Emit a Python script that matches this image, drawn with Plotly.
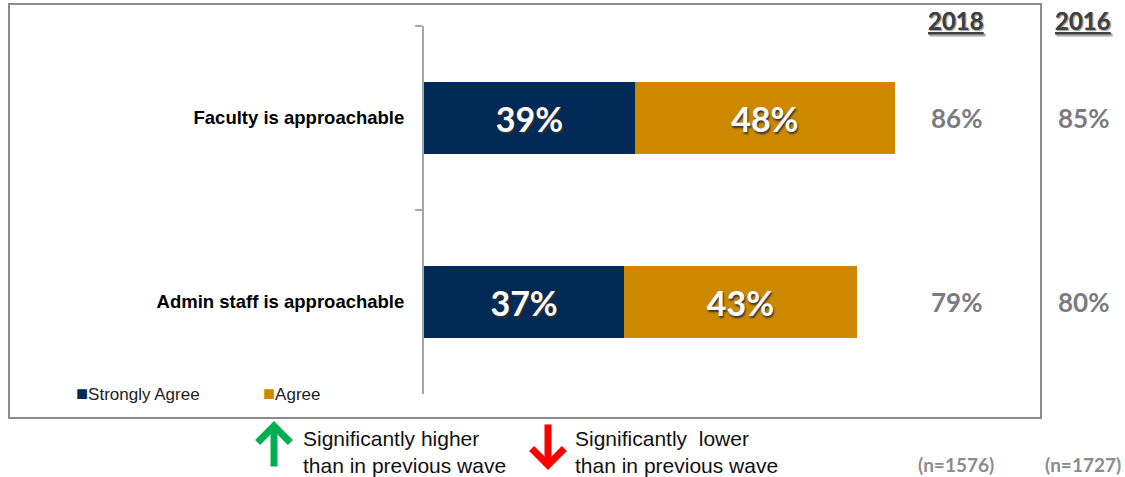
import plotly.graph_objects as go

# data
statements = ["Faculty is approachable", "Admin staff is approachable"]
strongly_agree = [39, 37]
agree = [48, 43]
total_2018 = [86, 79]
total_2016 = [85, 80]
waves = ["2018", "2016"]
bases = ["(n=1576)", "(n=1727)"]
series_names = ["Strongly Agree", "Agree"]
series_colors = ["#022a56", "#cc8900"]

W, H = 1125, 477
L, R, T, B = 424, 1041, 26, 394  # plot area in pixels


def px(x):
    return (x - L) / (R - L)


def py(y):
    return (B - y) / (B - T)


bar_font = dict(family="Lato", size=34, color="white", weight="bold",
                shadow="1px 2px 2px #333")

fig = go.Figure()
for name, vals, col in zip(series_names, [strongly_agree, agree], series_colors):
    fig.add_trace(go.Bar(
        y=statements, x=vals, name=name, orientation="h",
        marker=dict(color=col, line=dict(width=0)),
        text=[f"{v}%" for v in vals], textposition="inside",
        insidetextanchor="middle", textfont=bar_font,
        width=0.39, showlegend=False, hoverinfo="skip",
    ))

ann = []
# wave columns
for wi, (wave, col_vals, base) in enumerate(zip(waves, [total_2018, total_2016], bases)):
    cx = [956, 1083][wi]
    ann.append(dict(x=px(cx), y=py(20), xref="paper", yref="paper",
                    xanchor="center", yanchor="middle",
                    text=f"<u>{wave}</u>", showarrow=False,
                    font=dict(family="Lato", size=24, color="#404040", weight="bold",
                              shadow="1px 1px 1px #aaa")))
    for s, v in zip(statements, col_vals):
        ann.append(dict(x=px(cx), y=s, xref="paper", yref="y",
                        xanchor="center", yanchor="middle",
                        text=f"{v}%", showarrow=False,
                        font=dict(family="Lato", size=26, color="#7b7b80", weight="bold")))
    ann.append(dict(x=px(cx), y=py(465), xref="paper", yref="paper",
                    xanchor="center", yanchor="middle",
                    text=base, showarrow=False,
                    font=dict(family="Lato", size=19, color="#8c8c8c", weight="bold")))

# legend
for name, col, lx in zip(series_names, series_colors, [74, 261]):
    ann.append(dict(x=px(lx), y=py(393), xref="paper", yref="paper",
                    xanchor="left", yanchor="middle", showarrow=False,
                    text=f"<span style='color:{col};font-size:20px'>■</span>{name}",
                    font=dict(family="Liberation Sans", size=17, color="#222")))

# significance key
ann.append(dict(x=px(274), y=py(421), xref="paper", yref="paper", text="",
                showarrow=True, ax=0, ay=47, arrowhead=4, arrowsize=0.9,
                arrowwidth=7, arrowcolor="#00b050"))
ann.append(dict(x=px(548), y=py(470), xref="paper", yref="paper", text="",
                showarrow=True, ax=0, ay=-47, arrowhead=4, arrowsize=0.9,
                arrowwidth=7, arrowcolor="#ff0000"))
ann.append(dict(x=px(301), y=py(452), xref="paper", yref="paper",
                xanchor="left", yanchor="middle", align="left", showarrow=False,
                text="Significantly higher<br>than in previous wave",
                font=dict(family="Liberation Sans", size=21, color="#111")))
ann.append(dict(x=px(573), y=py(452), xref="paper", yref="paper",
                xanchor="left", yanchor="middle", align="left", showarrow=False,
                text="Significantly&nbsp; lower<br>than in previous wave",
                font=dict(family="Liberation Sans", size=21, color="#111")))

fig.update_layout(
    width=W, height=H,
    margin=dict(l=L, r=W - R, t=T, b=H - B, pad=0),
    barmode="stack",
    plot_bgcolor="white", paper_bgcolor="white",
    annotations=ann,
    shapes=[dict(type="rect", xref="paper", yref="paper",
                 x0=px(9), x1=px(1041), y0=py(418), y1=py(4),
                 line=dict(color="#8c8c8c", width=2))],
    xaxis=dict(range=[0, (R - L) / 5.41], visible=False, fixedrange=True),
    yaxis=dict(type="category", categoryorder="array", categoryarray=statements,
               range=[1.5, -0.5], showline=True, linecolor="#a6a6a6", linewidth=2,
               ticks="outside", tickson="boundaries", ticklen=7, tickwidth=2,
               tickcolor="#a6a6a6", showgrid=False, zeroline=False,
               fixedrange=True, ticklabelstandoff=14,
               tickfont=dict(family="Liberation Sans", size=18.5, color="#000",
                             weight="bold")),
)

# drop the browser's default body margin so the figure sits at the window corner
fig.write_html("out.html", config={"displayModeBar": False},
               post_script="document.body.style.margin='0';document.body.style.overflow='hidden';")
